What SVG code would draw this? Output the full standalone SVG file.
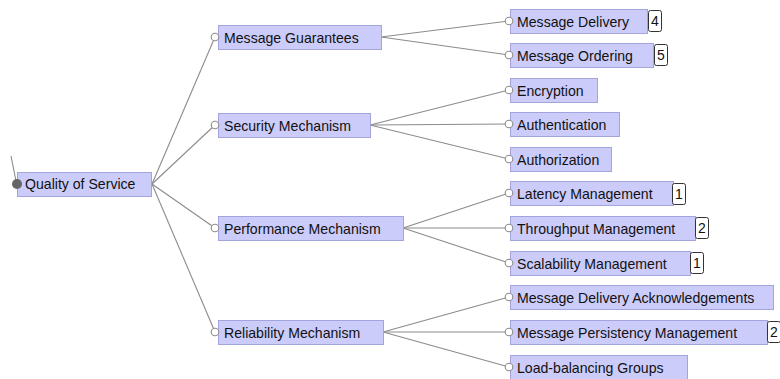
<svg xmlns="http://www.w3.org/2000/svg" width="780" height="379" viewBox="0 0 780 379">
  <style>
    .box { fill: #ccccfa; stroke: #a4a4dc; stroke-width: 1; }
    .lbl { font-family: "Liberation Sans", Arial, sans-serif; font-size: 14.1px; fill: #111; }
    .badge { fill: #ffffff; stroke: #333333; stroke-width: 1; }
    .num { font-family: "Liberation Sans", Arial, sans-serif; font-size: 14px; fill: #111; text-anchor: middle; }
    .edge { stroke: #8c8c8c; stroke-width: 1.1; fill: none; }
    .knob { fill: #ffffff; stroke: #8c8c8c; stroke-width: 1.1; }
  </style>
  <rect width="780" height="379" fill="#ffffff"/>

  <!-- connectors -->
  <g id="connectors">
    <line class="edge" x1="11" y1="156" x2="16" y2="181"/>
    <line class="edge" x1="152" y1="184" x2="215" y2="37"/>
    <line class="edge" x1="152" y1="184" x2="215" y2="125"/>
    <line class="edge" x1="152" y1="184" x2="215" y2="228"/>
    <line class="edge" x1="152" y1="184" x2="215" y2="332"/>
    <line class="edge" x1="381" y1="37" x2="509" y2="21"/>
    <line class="edge" x1="381" y1="37" x2="509" y2="55"/>
    <line class="edge" x1="370" y1="125" x2="509" y2="90"/>
    <line class="edge" x1="370" y1="125" x2="509" y2="124"/>
    <line class="edge" x1="370" y1="125" x2="509" y2="159"/>
    <line class="edge" x1="403" y1="228" x2="509" y2="193"/>
    <line class="edge" x1="403" y1="228" x2="509" y2="228"/>
    <line class="edge" x1="403" y1="228" x2="509" y2="263"/>
    <line class="edge" x1="383" y1="332" x2="509" y2="297"/>
    <line class="edge" x1="383" y1="332" x2="509" y2="332"/>
    <line class="edge" x1="383" y1="332" x2="509" y2="367"/>
  </g>

  <!-- root -->
  <g id="quality-of-service">
    <rect class="box" x="17.5" y="172.5" width="134" height="24"/>
    <circle cx="17" cy="184" r="5" fill="#666666"/>
    <text class="lbl" x="25" y="189">Quality of Service</text>
  </g>

  <!-- first level -->
  <g id="message-guarantees">
    <rect class="box" x="218.5" y="25.5" width="163" height="24"/>
    <circle class="knob" cx="215" cy="37" r="3.8"/>
    <text class="lbl" x="224" y="42.5">Message Guarantees</text>
  </g>
  <g id="security-mechanism">
    <rect class="box" x="218.5" y="113.5" width="152" height="24"/>
    <circle class="knob" cx="215" cy="125" r="3.8"/>
    <text class="lbl" x="224" y="130.5">Security Mechanism</text>
  </g>
  <g id="performance-mechanism">
    <rect class="box" x="218.5" y="216.5" width="185" height="24"/>
    <circle class="knob" cx="215" cy="228" r="3.8"/>
    <text class="lbl" x="224" y="233.5">Performance Mechanism</text>
  </g>
  <g id="reliability-mechanism">
    <rect class="box" x="218.5" y="320.5" width="165" height="24"/>
    <circle class="knob" cx="215" cy="332" r="3.8"/>
    <text class="lbl" x="224" y="337.5">Reliability Mechanism</text>
  </g>

  <!-- second level -->
  <g id="message-delivery">
    <rect class="box" x="510.5" y="9.5" width="137" height="24"/>
    <circle class="knob" cx="509" cy="21" r="3.8"/>
    <text class="lbl" x="517" y="26.5">Message Delivery</text>
    <rect class="badge" x="648.5" y="10.5" width="13" height="21" rx="2"/>
    <text class="num" x="655" y="26">4</text>
  </g>
  <g id="message-ordering">
    <rect class="box" x="510.5" y="43.5" width="143" height="24"/>
    <circle class="knob" cx="509" cy="55" r="3.8"/>
    <text class="lbl" x="517" y="60.5">Message Ordering</text>
    <rect class="badge" x="654.5" y="44.5" width="13" height="21" rx="2"/>
    <text class="num" x="661" y="60">5</text>
  </g>
  <g id="encryption">
    <rect class="box" x="510.5" y="78.5" width="87" height="24"/>
    <circle class="knob" cx="509" cy="90" r="3.8"/>
    <text class="lbl" x="517" y="95.5">Encryption</text>
  </g>
  <g id="authentication">
    <rect class="box" x="510.5" y="112.5" width="109" height="24"/>
    <circle class="knob" cx="509" cy="124" r="3.8"/>
    <text class="lbl" x="517" y="129.5">Authentication</text>
  </g>
  <g id="authorization">
    <rect class="box" x="510.5" y="147.5" width="101" height="24"/>
    <circle class="knob" cx="509" cy="159" r="3.8"/>
    <text class="lbl" x="517" y="164.5">Authorization</text>
  </g>
  <g id="latency-management">
    <rect class="box" x="510.5" y="181.5" width="163" height="24"/>
    <circle class="knob" cx="509" cy="193" r="3.8"/>
    <text class="lbl" x="517" y="198.5">Latency Management</text>
    <rect class="badge" x="672.5" y="183.5" width="13" height="21" rx="2"/>
    <text class="num" x="679" y="199">1</text>
  </g>
  <g id="throughput-management">
    <rect class="box" x="510.5" y="216.5" width="185" height="24"/>
    <circle class="knob" cx="509" cy="228" r="3.8"/>
    <text class="lbl" x="517" y="233.5">Throughput Management</text>
    <rect class="badge" x="695.5" y="217.5" width="13" height="21" rx="2"/>
    <text class="num" x="702" y="233">2</text>
  </g>
  <g id="scalability-management">
    <rect class="box" x="510.5" y="251.5" width="180" height="24"/>
    <circle class="knob" cx="509" cy="263" r="3.8"/>
    <text class="lbl" x="517" y="268.5">Scalability Management</text>
    <rect class="badge" x="690.5" y="252.5" width="13" height="21" rx="2"/>
    <text class="num" x="697" y="268">1</text>
  </g>
  <g id="message-delivery-acknowledgements">
    <rect class="box" x="510.5" y="285.5" width="263" height="24"/>
    <circle class="knob" cx="509" cy="297" r="3.8"/>
    <text class="lbl" x="517" y="302.5">Message Delivery Acknowledgements</text>
  </g>
  <g id="message-persistency-management">
    <rect class="box" x="510.5" y="320.5" width="257" height="24"/>
    <circle class="knob" cx="509" cy="332" r="3.8"/>
    <text class="lbl" x="517" y="337.5">Message Persistency Management</text>
    <rect class="badge" x="767.5" y="321.5" width="13" height="21" rx="2"/>
    <text class="num" x="774" y="337">2</text>
  </g>
  <g id="load-balancing-groups">
    <rect class="box" x="510.5" y="355.5" width="177" height="24"/>
    <circle class="knob" cx="509" cy="367" r="3.8"/>
    <text class="lbl" x="517" y="372.5">Load-balancing Groups</text>
  </g>
</svg>
